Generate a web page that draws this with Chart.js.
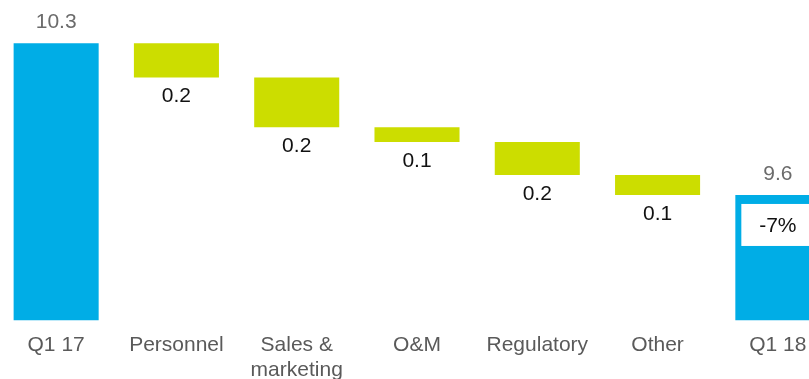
<!DOCTYPE html>
<html>
<head>
<meta charset="utf-8">
<script src="https://cdn.jsdelivr.net/npm/chart.js@4/dist/chart.umd.min.js"></script>
<style>
    html, body {
        margin: 0;
        padding: 0;
        background: #ffffff;
        overflow: hidden;
    }
    .chart-box {
        position: absolute;
        left: -4px;
        top: 0;
        width: 842px;
        height: 387px;
    }
</style>
</head>
<body>
<div class="chart-box">
    <canvas id="bridgeChart"></canvas>
</div>
<script>
// Cost bridge Q1 17 -> Q1 18
const categories = ['Q1 17', 'Personnel', ['Sales &', 'marketing'], 'O&M', 'Regulatory', 'Other', 'Q1 18'];
const startValue = 10.3;
const reductions = [0.158, 0.23, 0.068, 0.152, 0.092];
const endValue = 9.6;

const Y_MIN = 9.02;
const Y_MAX = 10.5;

const BLUE = '#00ade6';
const LIME = '#ccdd00';

document.addEventListener('DOMContentLoaded', function() {
    initBridgeChart();
});

function buildBars() {
    // totals start from the axis floor, steps float between running totals
    const bars = [[Y_MIN, startValue]];
    let level = startValue;
    reductions.forEach(r => {
        bars.push([level - r, level]);
        level -= r;
    });
    bars.push([Y_MIN, endValue]);
    return bars;
}

const valueLabels = {
    id: 'valueLabels',
    afterDatasetsDraw(chart) {
        const ctx = chart.ctx;
        const bars = chart.getDatasetMeta(0).data;
        const last = bars.length - 1;
        ctx.save();
        ctx.font = '21px "Liberation Sans", Arial, sans-serif';
        ctx.textAlign = 'center';
        ctx.textBaseline = 'middle';

        bars.forEach((bar, i) => {
            if (i === 0 || i === last) {
                const v = i === 0 ? startValue : endValue;
                ctx.fillStyle = '#6b6b6b';
                ctx.fillText(v.toFixed(1), bar.x, bar.y - 21);
            } else {
                const r = reductions[i - 1];
                ctx.fillStyle = '#111111';
                ctx.fillText((Math.round(r * 10) / 10).toFixed(1), bar.x, bar.base + 19);
            }
        });

        // change badge on the closing bar
        const end = bars[last];
        const pct = Math.round((endValue - startValue) / startValue * 100);
        const half = end.width / 2 - 6;
        ctx.fillStyle = '#ffffff';
        ctx.fillRect(end.x - half, end.y + 9, half * 2, 42);
        ctx.fillStyle = '#111111';
        ctx.fillText(pct + '%', end.x, end.y + 31);
        ctx.restore();
    }
};

function initBridgeChart() {
    const ctx = document.getElementById('bridgeChart').getContext('2d');

    const colors = categories.map((c, i) => (i === 0 || i === categories.length - 1) ? BLUE : LIME);

    new Chart(ctx, {
        type: 'bar',
        data: {
            labels: categories,
            datasets: [{
                data: buildBars(),
                backgroundColor: colors,
                borderWidth: 0,
                categoryPercentage: 1,
                barPercentage: 0.707
            }]
        },
        options: {
            responsive: true,
            maintainAspectRatio: false,
            animation: false,
            layout: {
                padding: 0
            },
            plugins: {
                legend: {
                    display: false
                },
                tooltip: {
                    enabled: false
                }
            },
            scales: {
                x: {
                    grid: {
                        display: false
                    },
                    border: {
                        display: false
                    },
                    ticks: {
                        color: '#5a5a5a',
                        padding: 4,
                        font: {
                            family: '"Liberation Sans", Arial, sans-serif',
                            size: 21,
                            lineHeight: 1.2
                        }
                    }
                },
                y: {
                    display: false,
                    min: Y_MIN,
                    max: Y_MAX
                }
            }
        },
        plugins: [valueLabels]
    });
}
</script>
</body>
</html>
